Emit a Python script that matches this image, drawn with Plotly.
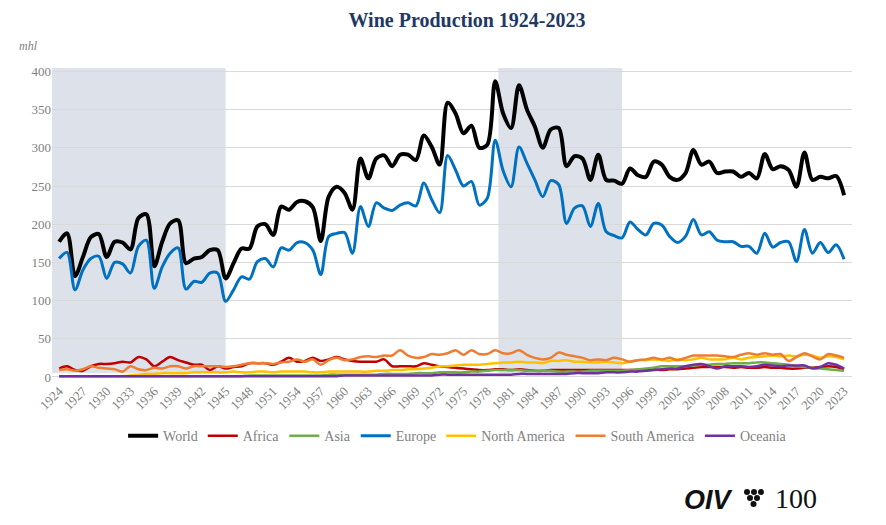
import plotly.graph_objects as go

# wine production per continent, million hl
years = list(range(1924, 2024))

world = [
    177, 188, 132, 157, 183, 187, 157, 177, 176, 167,
    208, 213, 145, 177, 201, 205, 149, 155, 157, 166,
    166, 129, 149, 168, 168, 197, 200, 186, 223, 219,
    229, 230, 222, 178, 236, 249, 241, 219, 286, 260,
    286, 290, 276, 291, 291, 284, 316, 301, 278, 359,
    345, 319, 329, 300, 304, 387, 345, 326, 382, 350,
    328, 300, 324, 326, 276, 289, 286, 258, 291, 258,
    257, 253, 273, 264, 262, 282, 278, 262, 258, 267,
    297, 278, 282, 267, 269, 269, 262, 267, 260, 292,
    272, 276, 271, 249, 294, 258, 262, 260, 263, 238,
]
africa = [
    11, 14, 9, 8, 14, 17, 17, 18, 20, 19,
    26, 23, 14, 20, 26, 22, 19, 16, 16, 9,
    14, 11, 13, 14, 18, 18, 18, 16, 20, 25,
    20, 21, 25, 21, 23, 26, 23, 21, 20, 20,
    20, 23, 14, 14, 14, 14, 18, 16, 14, 13,
    12, 11, 10, 9, 9, 10, 10, 9, 10, 9,
    8, 8, 9, 9, 9, 9, 9, 9, 9, 9,
    9, 9, 9, 9, 9, 10, 9, 10, 10, 11,
    12, 13, 13, 13, 13, 12, 13, 12, 12, 13,
    12, 12, 11, 11, 12, 12, 13, 14, 13, 10,
]
asia = [
    1, 1, 1, 1, 1, 1, 1, 1, 1, 1,
    1, 1, 1, 1, 1, 1, 1, 1, 1, 1,
    1, 1, 1, 1, 2, 2, 2, 2, 2, 2,
    2, 2, 2, 2, 3, 3, 3, 3, 3, 3,
    3, 4, 4, 4, 4, 5, 5, 5, 6, 6,
    6, 6, 7, 7, 8, 9, 9, 9, 9, 8,
    8, 8, 8, 7, 7, 7, 7, 8, 8, 8,
    8, 8, 9, 10, 11, 12, 14, 14, 14, 14,
    15, 16, 16, 17, 17, 18, 18, 18, 19, 19,
    18, 17, 16, 14, 13, 12, 11, 10, 9, 8,
]
europe = [
    155, 163, 114, 140, 155, 158, 129, 150, 148, 136,
    171, 179, 116, 144, 162, 169, 115, 125, 124, 136,
    136, 99, 114, 131, 128, 151, 155, 144, 169, 166,
    176, 176, 166, 134, 184, 188, 189, 162, 223, 197,
    228, 221, 218, 225, 228, 224, 254, 232, 215, 290,
    271, 250, 256, 225, 234, 310, 270, 249, 301, 280,
    258, 236, 257, 252, 201, 221, 224, 197, 227, 190,
    185, 182, 203, 193, 186, 201, 199, 184, 176, 184,
    206, 186, 190, 179, 177, 177, 171, 171, 162, 188,
    170, 176, 177, 151, 193, 162, 176, 163, 173, 154,
]
north_america = [
    1, 1, 1, 1, 1, 1, 1, 1, 1, 2,
    3, 4, 4, 5, 5, 5, 5, 6, 6, 6,
    6, 6, 7, 6, 6, 7, 7, 6, 7, 7,
    7, 7, 6, 6, 7, 7, 7, 7, 7, 7,
    8, 8, 9, 9, 10, 10, 11, 12, 14, 14,
    15, 16, 16, 16, 17, 18, 19, 19, 20, 19,
    19, 18, 21, 21, 22, 20, 20, 19, 19, 20,
    19, 18, 20, 22, 22, 23, 22, 21, 23, 22,
    23, 25, 23, 23, 23, 25, 23, 25, 26, 27,
    28, 27, 28, 27, 29, 28, 25, 27, 26, 23,
]
south_america = [
    9, 10, 8, 10, 14, 12, 11, 10, 7, 14,
    10, 9, 12, 11, 14, 14, 11, 14, 14, 14,
    14, 13, 14, 16, 18, 18, 18, 17, 19, 20,
    23, 20, 23, 16, 22, 25, 22, 23, 26, 27,
    26, 28, 28, 35, 28, 25, 26, 30, 29, 31,
    35, 29, 35, 30, 30, 35, 31, 31, 35, 29,
    25, 23, 25, 32, 29, 27, 25, 22, 23, 22,
    25, 23, 20, 22, 23, 25, 23, 25, 22, 25,
    28, 28, 28, 28, 27, 26, 29, 31, 29, 31,
    29, 30, 21, 26, 31, 27, 23, 30, 28, 25,
]
oceania = [
    1, 1, 1, 1, 1, 1, 1, 1, 1, 1,
    1, 1, 1, 1, 1, 1, 1, 1, 1, 1,
    1, 1, 1, 1, 1, 1, 1, 1, 1, 1,
    1, 1, 1, 1, 1, 1, 2, 2, 2, 2,
    2, 2, 2, 2, 2, 2, 2, 2, 3, 3,
    3, 3, 3, 3, 3, 3, 3, 3, 4, 4,
    4, 4, 4, 4, 4, 5, 5, 5, 5, 6,
    6, 6, 7, 7, 8, 9, 10, 11, 11, 14,
    16, 17, 14, 11, 14, 14, 14, 13, 14, 16,
    15, 14, 15, 15, 15, 11, 13, 18, 16, 11,
]

series = [
    ("World", world, "#000000", 4),
    ("Africa", africa, "#C00000", 2.5),
    ("Asia", asia, "#70AD47", 2.5),
    ("Europe", europe, "#0070C0", 3),
    ("North America", north_america, "#FFC000", 2.5),
    ("South America", south_america, "#ED7D31", 2.5),
    ("Oceania", oceania, "#7030A0", 2.5),
]

tick_years = years[::3]
grey = "#7f7f7f"
serif = "Liberation Serif"

fig = go.Figure()
for name, vals, col, w in series:
    fig.add_trace(go.Scatter(
        x=years, y=vals, name=name, mode="lines",
        line=dict(color=col, width=w, shape="spline", smoothing=0.9),
    ))

# shaded periods
for x0, x1 in [(1923.1, 1945.0), (1979.4, 1995.0)]:
    fig.add_shape(type="rect", xref="x", yref="y", x0=x0, x1=x1, y0=5, y1=404.5,
                  fillcolor="#dde2ea", line_width=0, layer="below")

fig.update_layout(
    width=870, height=509,
    margin=dict(l=44, r=26, t=60, b=137),
    paper_bgcolor="white", plot_bgcolor="white",
    font=dict(family=serif, color=grey, size=12),
    title=dict(text="<b>Wine Production 1924-2023</b>", x=0.5276, xanchor="center",
               y=0.976, yanchor="middle",
               font=dict(family=serif, size=20, color="#1F3864")),
    showlegend=True,
    legend=dict(orientation="h", x=0.507, xanchor="center", y=-0.18, yanchor="middle",
                font=dict(family=serif, size=14, color=grey), itemwidth=30,
                traceorder="normal"),
    xaxis=dict(range=[1923.1, 2024.0], tickvals=tick_years,
               ticktext=[str(y) for y in tick_years], tickangle=-45,
               showgrid=False, zeroline=False, showline=False, ticks="",
               tickfont=dict(family=serif, size=13, color=grey)),
    yaxis=dict(range=[-4, 404.5], tickvals=list(range(0, 401, 50)),
               showgrid=True, gridcolor="#d9d9d9", gridwidth=1, zeroline=False,
               showline=False, ticks="",
               tickfont=dict(family=serif, size=13, color=grey)),
    annotations=[
        dict(text="<i>mhl</i>", xref="paper", yref="paper", x=-0.03, y=1.071,
             xanchor="center", yanchor="middle",
             showarrow=False, font=dict(family=serif, size=12, color=grey)),
        dict(text="<b><i>OIV</i></b>", xref="paper", yref="paper", x=0.82, y=-0.385,
             xanchor="center", yanchor="middle",
             showarrow=False, font=dict(family="Liberation Sans", size=27, color="#111111")),
        dict(text="100", xref="paper", yref="paper", x=0.93, y=-0.38,
             xanchor="center", yanchor="middle",
             showarrow=False, font=dict(family=serif, size=28, color="#111111")),
    ],
)

# little grape cluster of the logo (page pixel centres of the reference)
for cx, cy in [(747, 492), (754, 492), (761, 492), (750, 498), (757, 498), (753.5, 504)]:
    fig.add_shape(type="circle", xref="paper", yref="paper",
                  x0=(cx - 3 - 52) / 800, x1=(cx + 3 - 52) / 800,
                  y0=(380 - cy - 3) / 311.7, y1=(380 - cy + 3) / 311.7,
                  fillcolor="#111111", line_width=0)

fig.write_html("out.html")
